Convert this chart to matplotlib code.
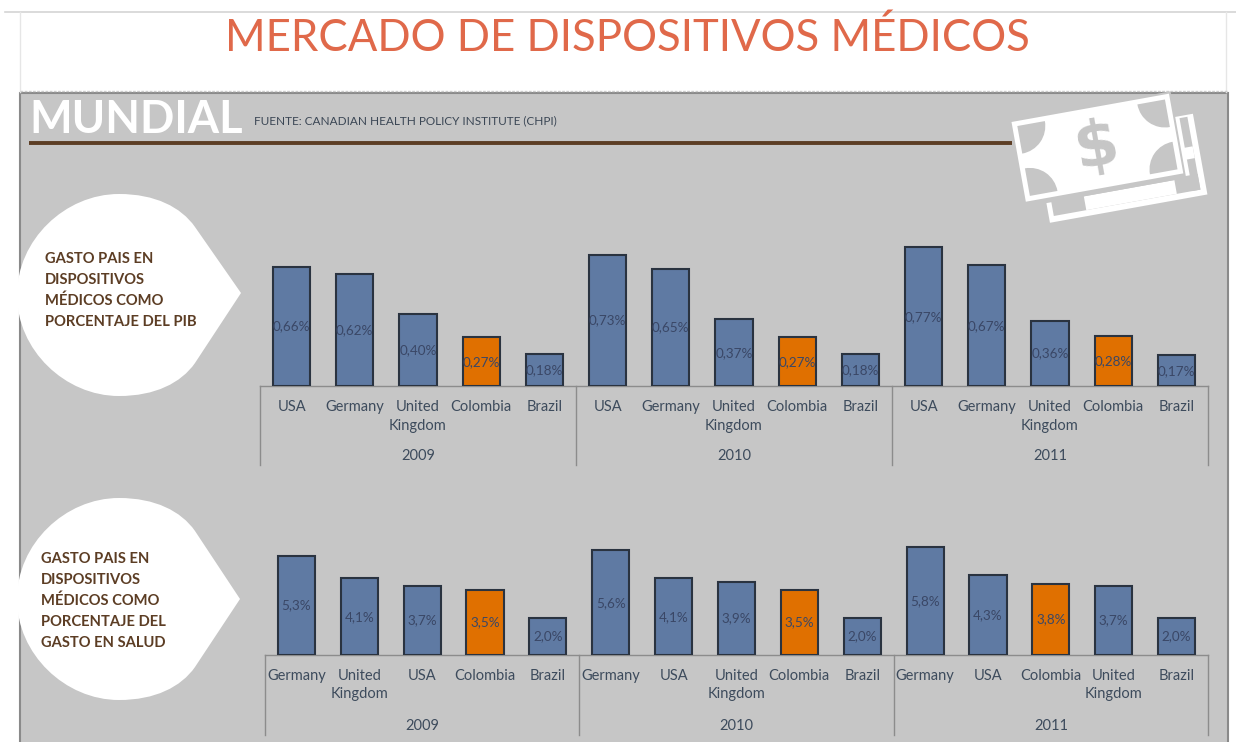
import matplotlib.pyplot as plt
import numpy as np
from matplotlib.patches import Rectangle, Polygon, PathPatch, Wedge
from matplotlib.path import Path

plt.rcParams['font.family'] = ['Lato', 'DejaVu Sans']

W = 1236
H = 742

years = ['2009', '2010', '2011']

pib_names = ['USA', 'Germany', 'United\nKingdom', 'Colombia', 'Brazil',
             'USA', 'Germany', 'United\nKingdom', 'Colombia', 'Brazil',
             'USA', 'Germany', 'United\nKingdom', 'Colombia', 'Brazil']
pib_values = [0.66, 0.62, 0.40, 0.27, 0.18,
              0.73, 0.65, 0.37, 0.27, 0.18,
              0.77, 0.67, 0.36, 0.28, 0.17]

salud_names = ['Germany', 'United\nKingdom', 'USA', 'Colombia', 'Brazil',
               'Germany', 'USA', 'United\nKingdom', 'Colombia', 'Brazil',
               'Germany', 'USA', 'Colombia', 'United\nKingdom', 'Brazil']
salud_values = [5.3, 4.1, 3.7, 3.5, 2.0,
                5.6, 4.1, 3.9, 3.5, 2.0,
                5.8, 4.3, 3.8, 3.7, 2.0]

panel_grey = '#c6c6c6'
blue = '#5f7aa3'
orange = '#e07000'
edge = '#2a3340'
text_col = '#3d4b5c'
brown = '#5c3d24'

fig = plt.figure(figsize=(W / 100, H / 100), dpi=100, facecolor='white')

# background layer in pixel coordinates
bg = fig.add_axes([0, 0, 1, 1])
bg.set_xlim(0, W)
bg.set_ylim(H, 0)
bg.axis('off')

bg.plot([5, W], [12, 12], color='#d4d4d4', lw=1.2)
bg.plot([20, 20], [12, 92], color='#e6e6e6', lw=1)
bg.plot([1226, 1226], [12, 92], color='#e6e6e6', lw=1)
bg.plot([20, 1228], [91, 91], color='#cccccc', lw=1, ls=(0, (2, 1)))
bg.add_patch(Rectangle((19.5, 93), 1208, 660, fc=panel_grey, ec='#8a8a8a', lw=1.5))

bg.text(627, 38, 'MERCADO DE DISPOSITIVOS MÉDICOS', color='#e0694a', fontsize=31.5,
        ha='center', va='center')
bg.text(29, 120, 'MUNDIAL', color='white', fontsize=32.5, fontweight='bold', ha='left', va='center')
bg.text(254, 121, 'FUENTE: CANADIAN HEALTH POLICY INSTITUTE (CHPI)', color='#3a4654', fontsize=8.5,
        ha='left', va='center')
bg.plot([29, 1012], [143, 143], color=brown, lw=2.8, solid_capstyle='butt')


def bubble(top, bottom, tip_x, tip_y):
    mid = (top + bottom) / 2
    verts = [(119, top),
             (155, top), (181, top + 13), (195, top + 33),
             (tip_x, tip_y),
             (195, bottom - 33),
             (181, bottom - 13), (155, bottom), (119, bottom),
             (65, bottom), (17, mid + 55), (17, mid),
             (17, mid - 55), (65, top), (119, top)]
    codes = [Path.MOVETO] + [Path.CURVE4] * 3 + [Path.LINETO] * 2 + [Path.CURVE4] * 9
    bg.add_patch(PathPatch(Path(verts, codes), fc='white', ec='none', zorder=2))


bubble(194, 396, 241, 293)
bubble(498, 700, 240, 599)

label_pib = ['GASTO PAIS EN', 'DISPOSITIVOS', 'MÉDICOS COMO', 'PORCENTAJE DEL PIB']
for i, s in enumerate(label_pib):
    bg.text(45, 259 + i * 21, s, color=brown, fontsize=10.6, fontweight='bold', va='center', zorder=3)

label_salud = ['GASTO PAIS EN', 'DISPOSITIVOS', 'MÉDICOS COMO', 'PORCENTAJE DEL', 'GASTO EN SALUD']
for i, s in enumerate(label_salud):
    bg.text(41, 559 + i * 21, s, color=brown, fontsize=10.6, fontweight='bold', va='center', zorder=3)

# money icon
angle = np.deg2rad(-10.2)
ux = np.array([np.cos(angle), np.sin(angle)])
uy = np.array([-np.sin(angle), np.cos(angle)])
origin = np.array([1011.5, 122.0])


def bill(u, v):
    return origin + u * ux + v * uy


def quad(u0, v0, u1, v1, col, z):
    return Polygon([bill(u0, v0), bill(u1, v0), bill(u1, v1), bill(u0, v1)], closed=True,
                   fc=col, ec='none', zorder=z)


bg.add_patch(quad(20, 24, 180, 106, 'white', 3))
bg.add_patch(quad(25, 84, 174, 100, panel_grey, 3))
bg.add_patch(quad(166, 26, 174, 100, panel_grey, 3))
bg.add_patch(quad(58, 86, 150, 100, 'white', 3))
bg.add_patch(quad(160, 56, 174, 68, 'white', 3))
bg.add_patch(quad(-2, -2, 162, 86, panel_grey, 4))
bg.add_patch(quad(0, 0, 160, 81, 'white', 5))
for cu, cv, a0, a1 in [(5, 5, 0, 90), (155, 5, 90, 180), (5, 76, 270, 360), (155, 76, 180, 270)]:
    # y axis is inverted, so wedge angles run the other way round on screen
    bg.add_patch(Wedge(bill(cu, cv), 28, a0 - 10.2, a1 - 10.2, fc=panel_grey, ec='none', zorder=6))
bg.text(*bill(80, 40), '$', color=panel_grey, fontsize=46, fontweight='bold', rotation=10.2,
        ha='center', va='center', family='DejaVu Sans', zorder=6)


def bars(left, right, base, top, ymax, names, values, fmt, line_bottom, year_y, tick_pad, spacing):
    ax = fig.add_axes([left / W, 1 - base / H, (right - left) / W, (base - top) / H])
    ax.patch.set_alpha(0)
    x = np.arange(len(values))
    colors = [orange if n == 'Colombia' else blue for n in names]
    ax.bar(x, values, width=0.59, color=colors, edgecolor=edge, linewidth=1.5, zorder=3)
    for xi, v in zip(x, values):
        ax.text(xi, v / 2, (fmt % v).replace('.', ',') + '%',
                ha='center', va='center', color='#3a4766', fontsize=9.7, zorder=4)
    ax.set_xlim(-0.5, len(values) - 0.5)
    ax.set_ylim(0, ymax)
    ax.set_yticks([])
    ax.set_xticks(x)
    ax.set_xticklabels(names, fontsize=10.5, color=text_col, linespacing=spacing)
    ax.tick_params(axis='x', length=0, pad=tick_pad)
    for s in ['top', 'left', 'right']:
        ax.spines[s].set_visible(False)
    ax.spines['bottom'].set_color('#8c8c8c')
    ax.spines['bottom'].set_linewidth(1)
    trans = ax.get_xaxis_transform()
    h = base - top
    for g in range(len(years) + 1):
        xg = g * 5 - 0.5
        ax.plot([xg, xg], [0, -(line_bottom - base) / h], transform=trans, color='#8c8c8c', lw=1, clip_on=False)
    for g, y in enumerate(years):
        ax.text(g * 5 + 2, -(year_y - base) / h, y, transform=trans, ha='center', va='center',
                fontsize=10.5, color=text_col)
    return ax


bars(260, 1208, 386, 242, 0.80, pib_names, pib_values, '%.2f', 465, 456, 10, 1.5)
bars(265, 1208, 655, 543, 6.0, salud_names, salud_values, '%.1f', 735, 726, 10, 1.35)

fig.savefig('out.png', dpi=100)
